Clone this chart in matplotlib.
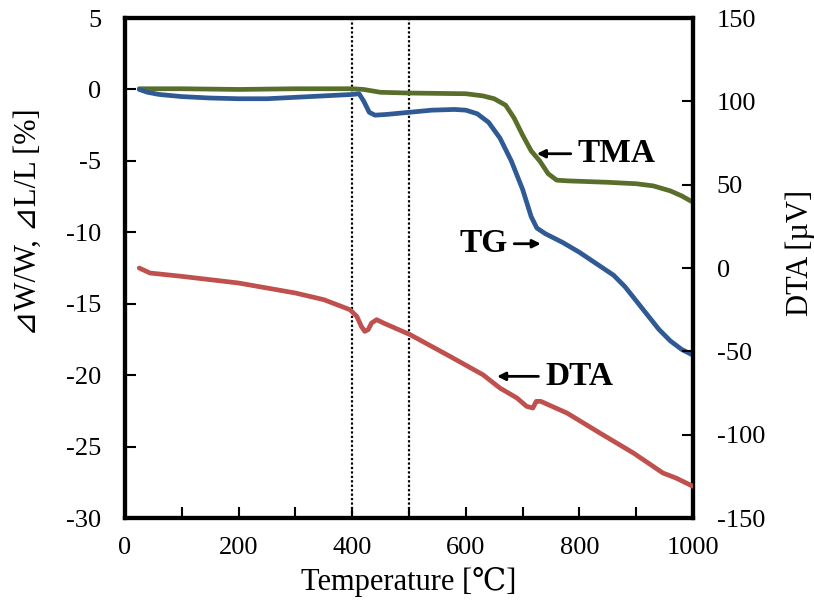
import matplotlib
matplotlib.use("Agg")
import matplotlib.pyplot as plt
import numpy as np

plt.rcParams['font.family'] = ['Liberation Serif', 'DejaVu Serif', 'DejaVu Sans', 'Noto Sans CJK JP']
plt.rcParams['axes.unicode_minus'] = False

# TMA (left axis, %)
tma_t = [25, 100, 200, 300, 400, 420, 450, 500, 600, 630, 650, 670, 685, 700, 715, 730, 745, 760, 780, 850, 900, 930, 960, 980, 1000]
tma_v = [0.05, 0.05, 0.0, 0.05, 0.05, 0.0, -0.2, -0.25, -0.3, -0.45, -0.65, -1.1, -2.0, -3.2, -4.3, -5.0, -5.9, -6.35, -6.4, -6.5, -6.6, -6.75, -7.1, -7.45, -7.9]

# TG (left axis, %)
tg_t = [25, 40, 60, 100, 150, 200, 250, 300, 350, 400, 412, 420, 430, 440, 460, 500, 540, 580, 600, 620, 640, 660, 680, 700, 715, 725, 740, 770, 800, 830, 860, 880, 900, 920, 940, 960, 980, 1000]
tg_v = [0.0, -0.2, -0.35, -0.5, -0.6, -0.65, -0.65, -0.55, -0.45, -0.35, -0.3, -0.8, -1.6, -1.8, -1.75, -1.6, -1.45, -1.4, -1.45, -1.7, -2.3, -3.4, -5.0, -7.0, -8.9, -9.7, -10.1, -10.7, -11.4, -12.2, -13.0, -13.8, -14.8, -15.8, -16.8, -17.6, -18.2, -18.6]

# DTA (right axis, uV)
dta_t = [25, 44, 100, 200, 300, 350, 396, 408, 416, 422, 428, 434, 443, 455, 502, 572, 630, 660, 690, 707, 718, 724, 732, 778, 836, 895, 947, 970, 1000]
dta_v = [0, -3, -5, -9, -15, -19, -25, -29, -35, -38, -37, -33, -31, -33, -40, -53, -64, -72, -78, -83, -84, -80, -80, -87, -99, -111, -123, -126, -131]

c_tma = '#5a6e2c'
c_tg = '#2f5a94'
c_dta = '#c0504d'

fig = plt.figure(figsize=(8.14, 6.07), dpi=100)
ax = fig.add_axes([0.1536, 0.1466, 0.6978, 0.8237])
ax2 = ax.twinx()

kw = dict(lw=3.4, solid_capstyle='round', solid_joinstyle='round', zorder=3)
ax.plot(tma_t, tma_v, color=c_tma, **kw)
ax.plot(tg_t, tg_v, color=c_tg, **kw)
ax2.plot(dta_t, dta_v, color=c_dta, **kw)

for xv in [400, 500]:
    ax.axvline(xv, color='black', lw=1.6, ls=(0, (1, 1)), zorder=2)

ax.set_xlim(0, 1000)
ax.set_ylim(-30, 5)
ax2.set_ylim(-150, 150)

ax.set_xticks(np.arange(0, 1001, 200))
ax.set_xticks(np.arange(0, 1001, 100), minor=True)
ax.set_yticks(np.arange(-30, 6, 5))
ax2.set_yticks(np.arange(-150, 151, 50))

fs = 19
ax.tick_params(axis='both', which='both', direction='in', labelsize=fs, width=1.5)
ax.tick_params(axis='x', which='major', length=8, pad=14)
ax.tick_params(axis='x', which='minor', length=8)
ax.tick_params(axis='y', length=8, pad=17)
ax2.tick_params(axis='y', direction='in', length=8, width=1.5, labelsize=fs, pad=17)

for a in (ax, ax2):
    for s in a.spines.values():
        s.set_linewidth(3)

lfs = 22
ax.set_xlabel('Temperature [℃]', fontsize=lfs)
ax.xaxis.set_label_coords(0.5, -0.098)
ax.set_ylabel('⊿W/W, ⊿L/L [%]', fontsize=lfs)
ax.yaxis.set_label_coords(-0.144, 0.592)
ax2.set_ylabel('DTA [µV]', fontsize=lfs)
ax2.yaxis.set_label_coords(1.162, 0.53)

tfs = 24
akw = dict(arrowstyle='-|>', color='black', lw=2, shrinkA=3, shrinkB=0, mutation_scale=12)
ax.annotate('TMA', xy=(725, -4.5), xytext=(797, -4.5), fontsize=tfs, fontweight='bold',
            va='center', ha='left', arrowprops=akw)
ax.annotate('TG', xy=(732, -10.8), xytext=(673, -10.8), fontsize=tfs, fontweight='bold',
            va='center', ha='right', arrowprops=akw)
ax2.annotate('DTA', xy=(655, -65), xytext=(740, -65), fontsize=tfs, fontweight='bold',
             va='center', ha='left', arrowprops=akw)

fig.savefig('out.png', dpi=100)
